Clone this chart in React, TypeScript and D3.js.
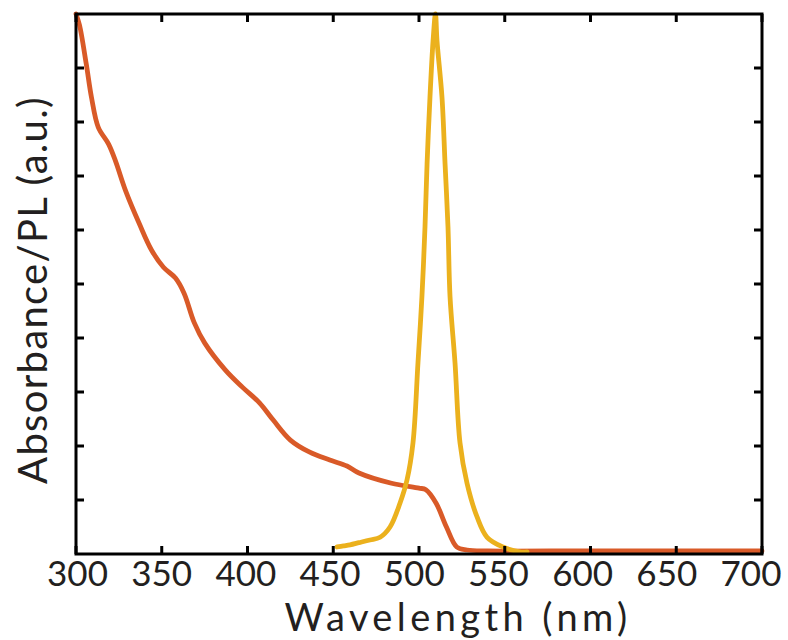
import React from "react";
import * as d3 from "d3";

const absWavelength = [300, 302, 306, 309, 313, 319, 323, 329, 337, 344, 351, 358, 363, 369, 375, 387, 397, 407, 415, 425, 436, 448, 458, 465, 484, 500, 504, 510, 516, 522, 528, 540, 600, 650, 700];
const absValue = [1.0, 0.98, 0.907, 0.846, 0.79, 0.759, 0.728, 0.672, 0.611, 0.563, 0.531, 0.511, 0.483, 0.428, 0.391, 0.341, 0.309, 0.28, 0.248, 0.211, 0.189, 0.174, 0.163, 0.15, 0.131, 0.122, 0.119, 0.094, 0.05, 0.013, 0.0074, 0.0056, 0.0058, 0.0056, 0.0056];

const plWavelength = [452.2, 456, 459.8, 465, 471.4, 477.3, 483.1, 488.9, 493, 496.5, 499.4, 501.7, 503.5, 504.7, 506.4, 508.2, 509.6, 510.5, 513.4, 515.2, 516.9, 518.1, 521, 523.9, 528, 533.8, 539.7, 549, 558.9, 563];
const plValue = [0.013, 0.015, 0.017, 0.021, 0.026, 0.031, 0.05, 0.094, 0.137, 0.206, 0.354, 0.476, 0.606, 0.722, 0.846, 0.95, 1.0, 0.95, 0.846, 0.722, 0.606, 0.476, 0.354, 0.206, 0.131, 0.069, 0.031, 0.013, 0.004, 0.004];

const xTicks = [300, 350, 400, 450, 500, 550, 600, 650, 700];
const yTicks = [0.1, 0.2, 0.3, 0.4, 0.5, 0.6, 0.7, 0.8, 0.9];

const xLabel = "Wavelength (nm)";
const yLabel = "Absorbance/PL (a.u.)";

export default function App() {
  const W = 788, H = 640;
  const left = 76, right = 762, top = 14, bottom = 554;
  const x = d3.scaleLinear().domain([300, 700]).range([left, right]);
  const xLab = d3.scaleLinear().domain([300, 700]).range([77.5, 751]);
  const y = d3.scaleLinear().domain([0, 1]).range([bottom, top]);
  const line = d3.line<[number, number]>().x(d => x(d[0])).y(d => y(d[1])).curve(d3.curveCatmullRom.alpha(0.5));
  const absPath = line(absWavelength.map((w, i) => [w, absValue[i]] as [number, number])) || "";
  const plPath = line(plWavelength.map((w, i) => [w, plValue[i]] as [number, number])) || "";
  const tl = 8;
  const font = "Lato, 'Open Sans', sans-serif";
  return (
    <svg width={W} height={H} style={{ position: "absolute", left: 0, top: 0, background: "#fff" }}>
      <path d={absPath} fill="none" stroke="#d95a28" strokeWidth={4.8} strokeLinejoin="round" strokeLinecap="round" />
      <path d={plPath} fill="none" stroke="#ebb11d" strokeWidth={4.8} strokeLinejoin="round" strokeLinecap="round" />
      <rect x={left} y={top} width={right - left} height={bottom - top} fill="none" stroke="#000" strokeWidth={3} />
      {xTicks.map(t => (
        <g key={"x" + t}>
          <line x1={x(t)} x2={x(t)} y1={bottom} y2={bottom - tl} stroke="#000" strokeWidth={3} />
          <line x1={x(t)} x2={x(t)} y1={top} y2={top + tl} stroke="#000" strokeWidth={3} />
          <text x={xLab(t)} y={586} textAnchor="middle" fontFamily={font} fontSize={35} fill="#231f20">{t}</text>
        </g>
      ))}
      {yTicks.map(t => (
        <g key={"y" + t}>
          <line x1={left} x2={left + tl} y1={y(t)} y2={y(t)} stroke="#000" strokeWidth={3} />
          <line x1={right} x2={right - tl} y1={y(t)} y2={y(t)} stroke="#000" strokeWidth={3} />
        </g>
      ))}
      <text x={458} y={631} textAnchor="middle" fontFamily={font} fontSize={38} letterSpacing={4.4} fill="#231f20">{xLabel}</text>
      <text transform="translate(47,290) rotate(-90)" textAnchor="middle" fontFamily={font} fontSize={40} letterSpacing={1.3} fill="#231f20">{yLabel}</text>
    </svg>
  );
}
